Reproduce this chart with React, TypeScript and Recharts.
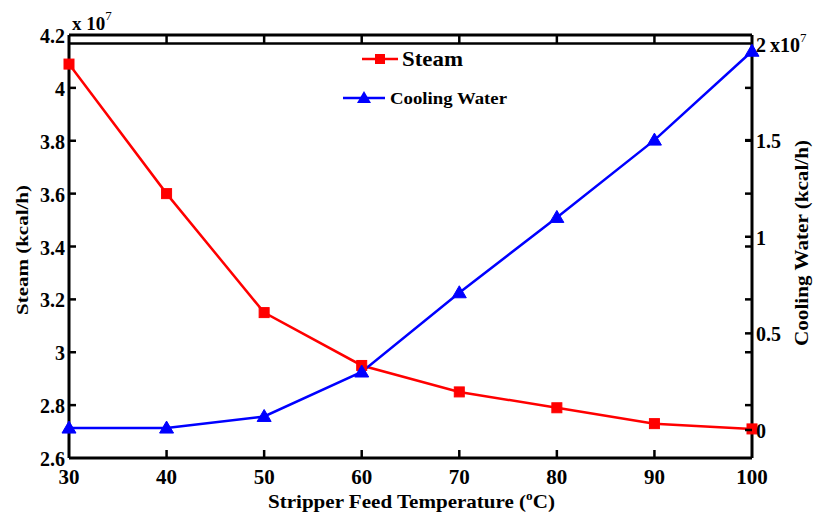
import React from 'react';
import { LineChart, Line, XAxis, YAxis, ReferenceLine, Customized } from 'recharts';

const temperatures = [30, 40, 50, 60, 70, 80, 90, 100];
const steamValues = [4.09, 3.6, 3.15, 2.95, 2.85, 2.79, 2.73, 2.71];
const coolingWaterValues = [0.01, 0.01, 0.07, 0.3, 0.71, 1.1, 1.5, 1.96];
const xTicks = [30, 40, 50, 60, 70, 80, 90, 100];
const steamTicks = [2.6, 2.8, 3, 3.2, 3.4, 3.6, 3.8, 4, 4.2];
const coolingTicks = [0, 0.5, 1, 1.5, 2];

const data = temperatures.map((t, i) => ({
  t,
  steam: steamValues[i],
  cooling: coolingWaterValues[i],
}));

const W = 814;
const H = 517;
const PLOT_LEFT = 69;
const PLOT_RIGHT = 752;
const PLOT_TOP = 35;
const PLOT_BOTTOM = 458;
const FONT = '"Liberation Serif", "Times New Roman", serif';
const RED = '#ff0000';
const BLUE = '#0000ff';

const XTick = (props: any) => {
  const { x, payload } = props;
  const v = payload.value;
  const inner = v !== 30 && v !== 100;
  return (
    <g>
      {inner && <line x1={x} x2={x} y1={PLOT_BOTTOM} y2={PLOT_BOTTOM - 8} stroke="#000" strokeWidth={2.5} />}
      {inner && <line x1={x} x2={x} y1={PLOT_TOP} y2={PLOT_TOP + 8} stroke="#000" strokeWidth={2.5} />}
      <text x={x} y={484} textAnchor="middle" fontFamily={FONT} fontWeight="bold" fontSize={21} fill="#000">
        {String(v)}
      </text>
    </g>
  );
};

const LeftTick = (props: any) => {
  const { y, payload } = props;
  const v = payload.value;
  const inner = v !== 2.6 && v !== 4.2;
  return (
    <g>
      {inner && <line x1={PLOT_LEFT} x2={PLOT_LEFT + 7} y1={y} y2={y} stroke="#000" strokeWidth={2.5} />}
      {inner && <line x1={PLOT_RIGHT - 7} x2={PLOT_RIGHT} y1={y} y2={y} stroke="#000" strokeWidth={2.5} />}
      <text x={PLOT_LEFT - 4} y={y + 8} textAnchor="end" fontFamily={FONT} fontWeight="bold" fontSize={20} fill="#000">
        {String(v)}
      </text>
      {v === 4.2 && (
        <text x={72} y={30} fontFamily={FONT} fontWeight="bold" fontSize={19} fill="#000">
          x 10
          <tspan dy={-10} fontSize={13} fontWeight="normal">7</tspan>
        </text>
      )}
    </g>
  );
};

const RightTick = (props: any) => {
  const { y, payload } = props;
  const v = payload.value;
  return (
    <g>
      {v !== 2 && <line x1={PLOT_RIGHT - 7} x2={PLOT_RIGHT} y1={y} y2={y} stroke="#000" strokeWidth={2.5} />}
      <text x={PLOT_RIGHT + 4} y={y + 8} textAnchor="start" fontFamily={FONT} fontWeight="bold" fontSize={20} fill="#000">
        {String(v)}
        {v === 2 && (
          <>
            <tspan dx={4}>x10</tspan>
            <tspan dy={-10} fontSize={13} fontWeight="normal">7</tspan>
          </>
        )}
      </text>
    </g>
  );
};

const SquareDot = (props: any) => {
  const { cx, cy } = props;
  if (cx == null || cy == null) return null;
  return <rect x={cx - 5} y={cy - 5} width={10} height={10} fill={RED} stroke={RED} />;
};

const TriangleDot = (props: any) => {
  const { cx, cy } = props;
  if (cx == null || cy == null) return null;
  return <polygon points={`${cx},${cy - 7} ${cx - 7},${cy + 5} ${cx + 7},${cy + 5}`} fill={BLUE} stroke={BLUE} />;
};

const Annotations = () => (
  <g>
    {/* legend */}
    <line x1={362} x2={398} y1={59} y2={59} stroke={RED} strokeWidth={2.5} />
    <rect x={375} y={54} width={10} height={10} fill={RED} />
    <text x={402} y={66} textLength={61} lengthAdjust="spacingAndGlyphs" fontFamily={FONT} fontWeight="bold" fontSize={21} fill="#000">Steam</text>
    <line x1={343} x2={385} y1={98} y2={98} stroke={BLUE} strokeWidth={2.5} />
    <polygon points="364,91 357,103 371,103" fill={BLUE} />
    <text x={390} y={104} textLength={117} lengthAdjust="spacingAndGlyphs" fontFamily={FONT} fontWeight="bold" fontSize={17} fill="#000">Cooling Water</text>
    {/* axis titles */}
    <text x={268} y={508} textLength={287} lengthAdjust="spacingAndGlyphs" fontFamily={FONT} fontWeight="bold" fontSize={19} fill="#000">
      Stripper Feed Temperature (
      <tspan dy={-8} fontSize={12}>o</tspan>
      <tspan dy={8}>C)</tspan>
    </text>
    <text x={-65} y={0} transform="translate(28,250) rotate(-90)" textLength={130} lengthAdjust="spacingAndGlyphs" fontFamily={FONT} fontWeight="bold" fontSize={17} fill="#000">
      Steam (kcal/h)
    </text>
    <text x={-103} y={0} transform="translate(808,243) rotate(-90)" textLength={206} lengthAdjust="spacingAndGlyphs" fontFamily={FONT} fontWeight="bold" fontSize={18} fill="#000">
      Cooling Water (kcal/h)
    </text>
  </g>
);

export default function App() {
  return (
    <div style={{ position: 'absolute', left: 0, top: 0, width: W, height: H, background: '#fff' }}>
      <LineChart width={W} height={H} data={data} margin={{ top: PLOT_TOP, right: 0, bottom: 0, left: 0 }}>
        <XAxis
          dataKey="t"
          type="number"
          domain={[30, 100]}
          ticks={xTicks}
          height={H - PLOT_BOTTOM}
          axisLine={{ stroke: '#000', strokeWidth: 3 }}
          tickLine={false}
          tickSize={0}
          tick={<XTick />}
          interval={0}
        />
        <YAxis
          yAxisId="left"
          domain={[2.6, 4.2]}
          ticks={steamTicks}
          width={PLOT_LEFT}
          axisLine={{ stroke: '#000', strokeWidth: 3 }}
          tickLine={false}
          tickSize={0}
          tick={<LeftTick />}
          interval={0}
          allowDataOverflow
        />
        <YAxis
          yAxisId="right"
          orientation="right"
          domain={[-0.145, 2.044]}
          ticks={coolingTicks}
          width={W - PLOT_RIGHT}
          axisLine={{ stroke: '#000', strokeWidth: 3 }}
          tickLine={false}
          tickSize={0}
          tick={<RightTick />}
          interval={0}
          allowDataOverflow
        />
        <ReferenceLine yAxisId="left" y={4.2} stroke="#000" strokeWidth={3} />
        <ReferenceLine yAxisId="right" y={2} stroke="#000" strokeWidth={2.5} />
        <Line
          yAxisId="left"
          dataKey="steam"
          type="linear"
          stroke={RED}
          strokeWidth={2.5}
          dot={<SquareDot />}
          isAnimationActive={false}
        />
        <Line
          yAxisId="right"
          dataKey="cooling"
          type="linear"
          stroke={BLUE}
          strokeWidth={2.5}
          dot={<TriangleDot />}
          isAnimationActive={false}
        />
        <Customized component={Annotations} />
      </LineChart>
    </div>
  );
}
